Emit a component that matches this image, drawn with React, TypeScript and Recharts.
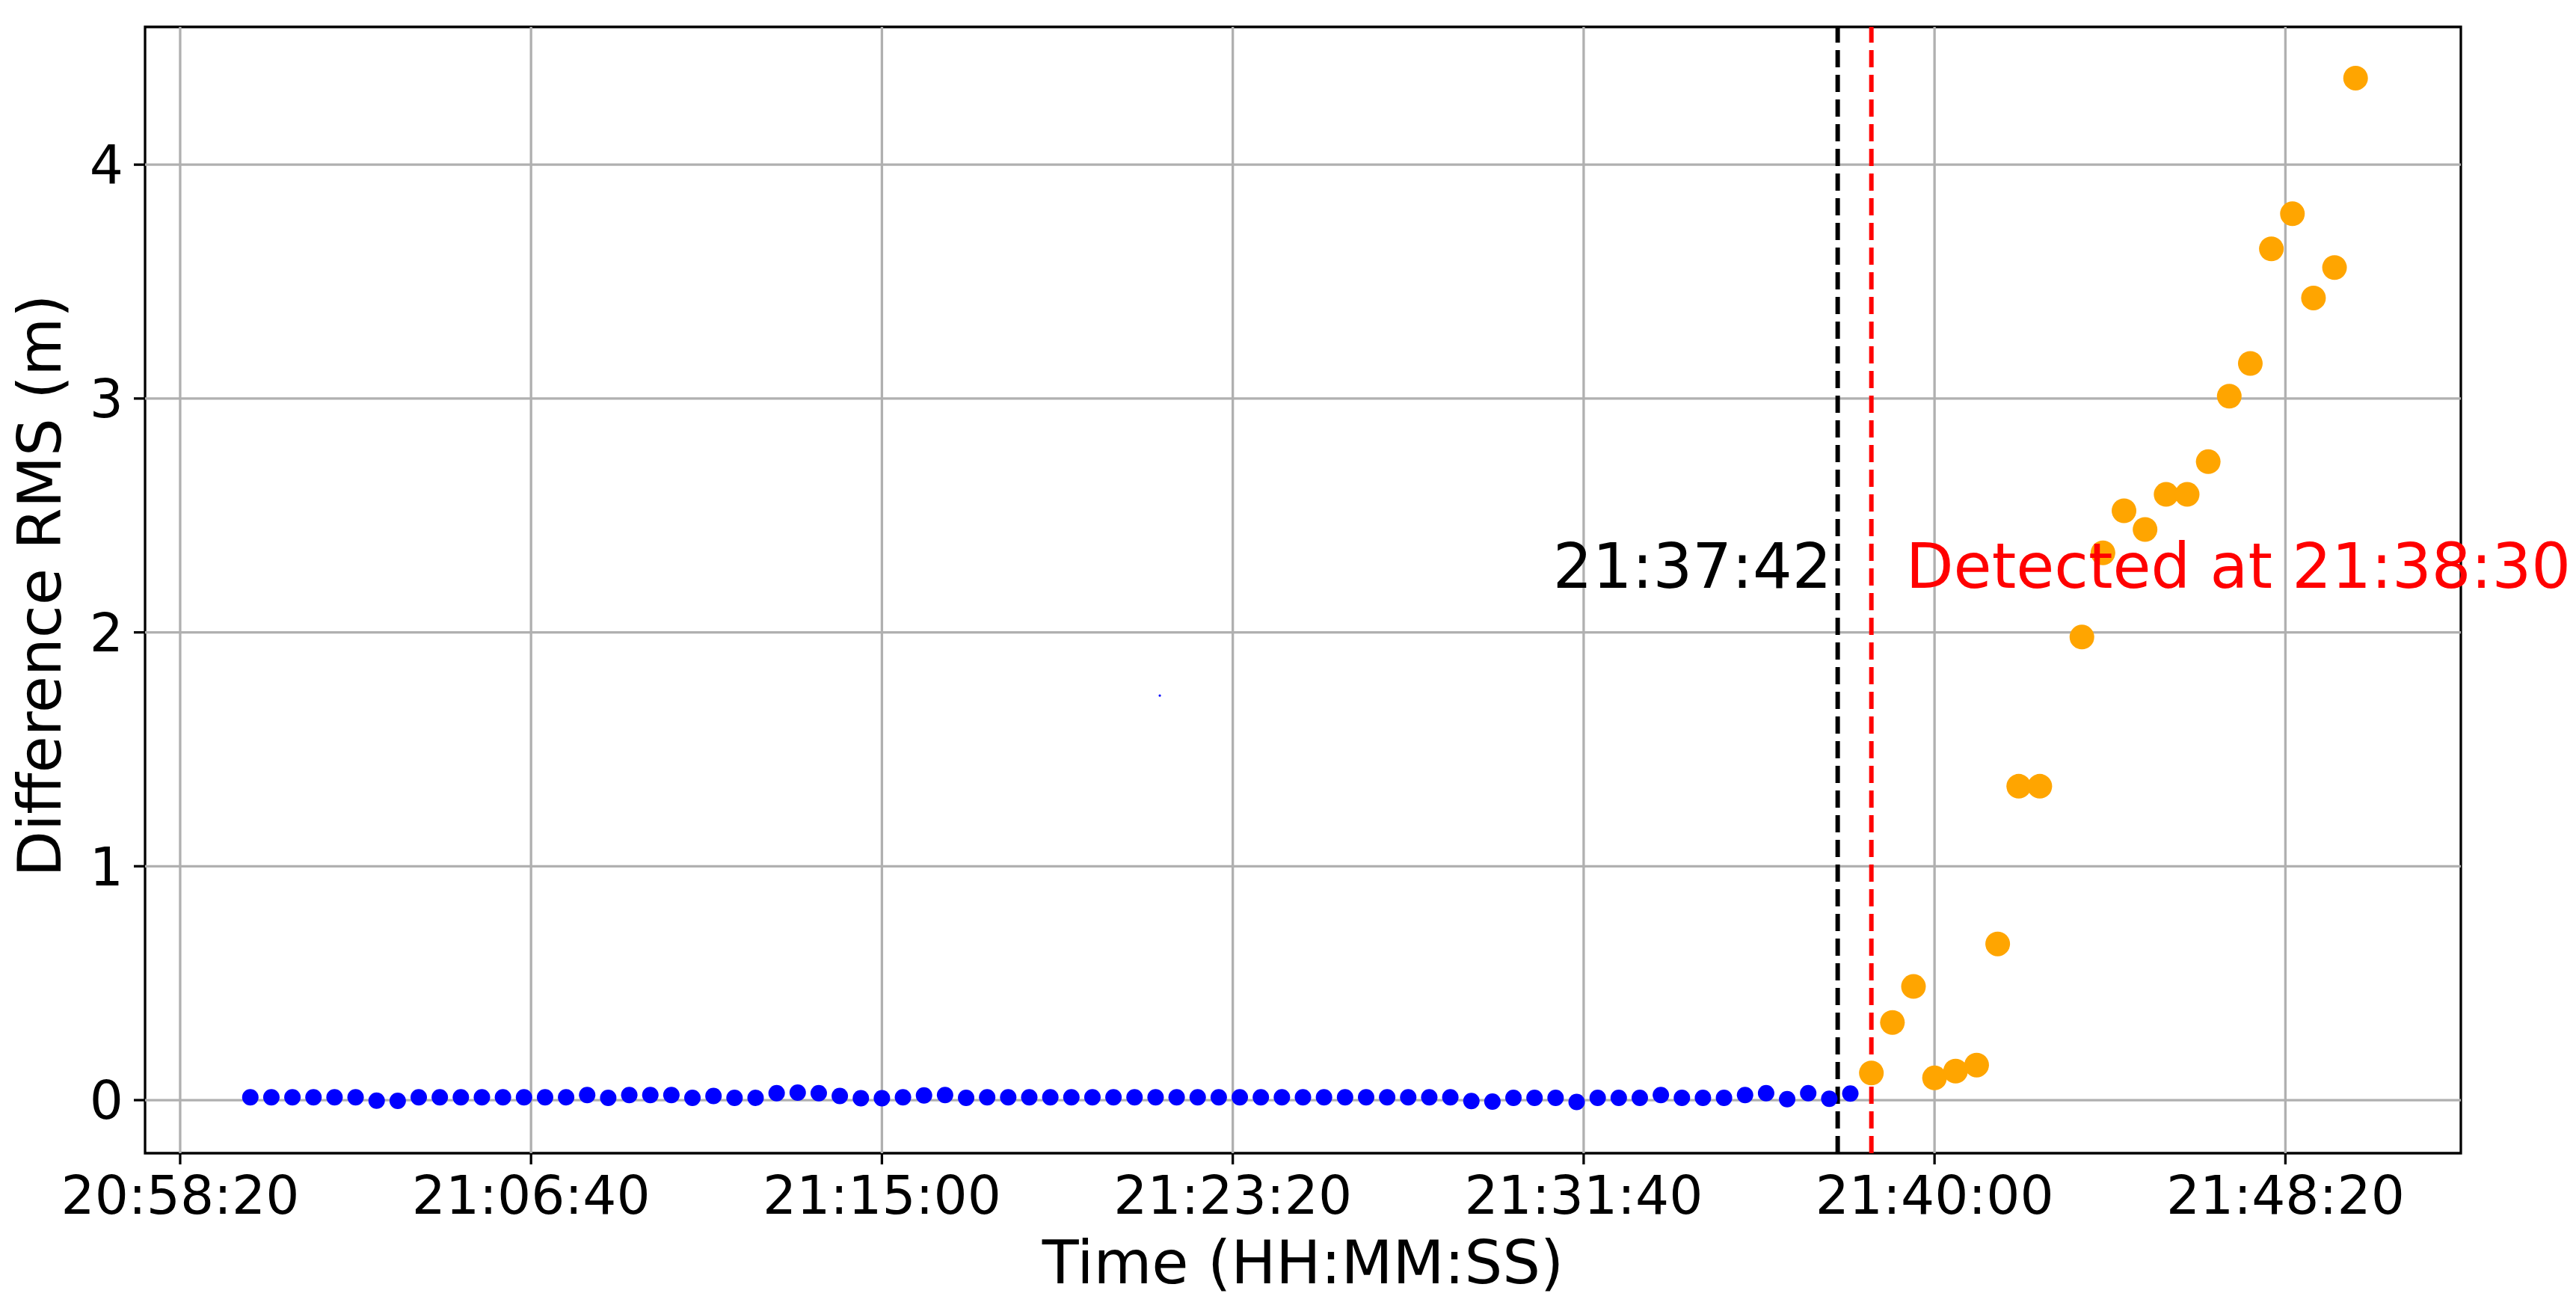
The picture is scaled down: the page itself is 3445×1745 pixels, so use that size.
import {
  ScatterChart,
  Scatter,
  XAxis,
  YAxis,
  ReferenceLine,
  ReferenceArea,
  ReferenceDot,
  Label,
} from 'recharts'

const font = 'DejaVu Sans'

// samples before the detection (blue), one every 30 s
const beforeTimes = [
  '21:00:00', '21:00:30', '21:01:00', '21:01:30', '21:02:00', '21:02:30', '21:03:00', '21:03:30', '21:04:00', '21:04:30',
  '21:05:00', '21:05:30', '21:06:00', '21:06:30', '21:07:00', '21:07:30', '21:08:00', '21:08:30', '21:09:00', '21:09:30',
  '21:10:00', '21:10:30', '21:11:00', '21:11:30', '21:12:00', '21:12:30', '21:13:00', '21:13:30', '21:14:00', '21:14:30',
  '21:15:00', '21:15:30', '21:16:00', '21:16:30', '21:17:00', '21:17:30', '21:18:00', '21:18:30', '21:19:00', '21:19:30',
  '21:20:00', '21:20:30', '21:21:00', '21:21:30', '21:22:00', '21:22:30', '21:23:00', '21:23:30', '21:24:00', '21:24:30',
  '21:25:00', '21:25:30', '21:26:00', '21:26:30', '21:27:00', '21:27:30', '21:28:00', '21:28:30', '21:29:00', '21:29:30',
  '21:30:00', '21:30:30', '21:31:00', '21:31:30', '21:32:00', '21:32:30', '21:33:00', '21:33:30', '21:34:00', '21:34:30',
  '21:35:00', '21:35:30', '21:36:00', '21:36:30', '21:37:00', '21:37:30', '21:38:00',
]
const beforeRms = [
  0.012, 0.012, 0.012, 0.012, 0.012, 0.012, -0.002, -0.003, 0.012, 0.012,
  0.012, 0.012, 0.012, 0.012, 0.012, 0.012, 0.022, 0.01, 0.022, 0.022,
  0.022, 0.01, 0.018, 0.01, 0.01, 0.03, 0.032, 0.03, 0.018, 0.008,
  0.008, 0.012, 0.02, 0.022, 0.01, 0.012, 0.012, 0.012, 0.012, 0.012,
  0.012, 0.012, 0.012, 0.012, 0.012, 0.012, 0.012, 0.012, 0.012, 0.012,
  0.012, 0.012, 0.012, 0.012, 0.012, 0.012, 0.012, 0.012, -0.004, -0.006,
  0.01, 0.01, 0.01, -0.008, 0.01, 0.01, 0.01, 0.022, 0.01, 0.01,
  0.01, 0.022, 0.03, 0.004, 0.03, 0.006, 0.028,
]

// samples after the detection (orange)
const afterTimes = [
  '21:38:30', '21:39:00', '21:39:30', '21:40:00', '21:40:30', '21:41:00', '21:41:30', '21:42:00', '21:42:30',
  '21:43:30', '21:44:00', '21:44:30', '21:45:00', '21:45:30', '21:46:00', '21:46:30', '21:47:00', '21:47:30',
  '21:48:00', '21:48:30', '21:49:00', '21:49:30', '21:50:00',
]
const afterRms = [
  0.116, 0.332, 0.486, 0.095, 0.124, 0.15, 0.668, 1.342, 1.342,
  1.98, 2.34, 2.52, 2.44, 2.59, 2.59, 2.73, 3.01, 3.15,
  3.64, 3.79, 3.43, 3.56, 4.37,
]

// odd single pixel in the original figure
const strayTimes = ['21:21:36']
const strayRms = [1.73]

const onsetTime = '21:37:42'
const detectTime = '21:38:30'
const noteY = 2.19

const xTickLabels = ['20:58:20', '21:06:40', '21:15:00', '21:23:20', '21:31:40', '21:40:00', '21:48:20']
const yTicks = [0, 1, 2, 3, 4]

function sec(s: string) {
  const [h, m, ss] = s.split(':').map(Number)
  return h * 3600 + m * 60 + ss
}

function hms(v: number) {
  const p = (n: number) => String(n).padStart(2, '0')
  return `${p(Math.floor(v / 3600))}:${p(Math.floor((v % 3600) / 60))}:${p(Math.round(v % 60))}`
}

const dot = (r: number, fill: string) => (p: any) => <circle cx={p.cx} cy={p.cy} r={r} fill={fill} />

function Note({ viewBox, text, color, dx, anchor }: any) {
  const x = viewBox.x + (viewBox.width || 0) / 2 + dx
  const y = viewBox.y + (viewBox.height || 0) / 2
  return (
    <text x={x} y={y} fill={color} fontSize={83} fontFamily={font} textAnchor={anchor}>
      {text}
    </text>
  )
}

export default function App() {
  const before = beforeTimes.map((t, i) => ({ t: sec(t), v: beforeRms[i] }))
  const after = afterTimes.map((t, i) => ({ t: sec(t), v: afterRms[i] }))
  const stray = strayTimes.map((t, i) => ({ t: sec(t), v: strayRms[i] }))

  // matplotlib style 5% margins around the data
  const ts = [...before, ...after].map(d => d.t)
  const vs = [...before, ...after].map(d => d.v)
  const tMin = Math.min(...ts), tMax = Math.max(...ts)
  const vMin = Math.min(...vs), vMax = Math.max(...vs)
  const xDomain = [tMin - 0.05 * (tMax - tMin), tMax + 0.05 * (tMax - tMin)]
  const yDomain = [vMin - 0.05 * (vMax - vMin), vMax + 0.05 * (vMax - vMin)]
  const xTicks = xTickLabels.map(sec)

  const tickStyle = { fontSize: 71, fill: '#000', fontFamily: font }
  const tickLine = { stroke: '#000', strokeWidth: 3.3 }

  return (
    <div style={{ width: 3445, height: 1745, background: '#fff' }}>
      <style>{'body{margin:0}'}</style>
      <ScatterChart
        width={3445}
        height={1745}
        margin={{ top: 36, right: 154, bottom: 0, left: 0 }}
        style={{ fontFamily: font }}
      >
        <XAxis
          dataKey="t"
          type="number"
          domain={xDomain}
          ticks={xTicks}
          interval={0}
          allowDataOverflow
          tickFormatter={hms}
          height={203}
          axisLine={false}
          tickSize={15}
          tickMargin={16}
          tick={tickStyle}
          tickLine={tickLine}
        >
          <Label
            content={({ viewBox }: any) => (
              <text
                x={viewBox.x + viewBox.width / 2}
                y={viewBox.y + 174}
                textAnchor="middle"
                fontSize={80}
                fontFamily={font}
                fill="#000"
              >
                Time (HH:MM:SS)
              </text>
            )}
          />
        </XAxis>
        <YAxis
          dataKey="v"
          type="number"
          domain={yDomain}
          ticks={yTicks}
          interval={0}
          allowDataOverflow
          width={194}
          axisLine={false}
          tickSize={15}
          tickMargin={14}
          tick={tickStyle}
          tickLine={tickLine}
        >
          <Label
            content={({ viewBox }: any) => {
              const cy = viewBox.y + viewBox.height / 2 - 6
              return (
                <text
                  x={0}
                  y={0}
                  transform={`translate(81, ${cy}) rotate(-90)`}
                  textAnchor="middle"
                  fontSize={80}
                  fontFamily={font}
                  fill="#000"
                >
                  Difference RMS (m)
                </text>
              )
            }}
          />
        </YAxis>

        <Scatter data={before} isAnimationActive={false} shape={dot(11, '#0000ff')} />
        <Scatter data={after} isAnimationActive={false} shape={dot(16.5, '#ffa500')} />
        <Scatter data={stray} isAnimationActive={false} shape={dot(1.6, '#0000ff')} />

        {/* grid sits above the markers, as in matplotlib */}
        {yTicks.map(v => (
          <ReferenceLine key={`gy${v}`} y={v} stroke="#b0b0b0" strokeWidth={3.3} />
        ))}
        {xTicks.map(v => (
          <ReferenceLine key={`gx${v}`} x={v} stroke="#b0b0b0" strokeWidth={3.3} />
        ))}

        <ReferenceLine x={sec(onsetTime)} stroke="#000" strokeWidth={6} strokeDasharray="23 10" />
        <ReferenceLine x={sec(detectTime)} stroke="#ff0000" strokeWidth={6} strokeDasharray="23 10" />

        <ReferenceDot
          x={sec(onsetTime)}
          y={noteY}
          r={0}
          fill="none"
          stroke="none"
          label={<Label content={(p: any) => <Note {...p} text={onsetTime} color="#000" dx={-8} anchor="end" />} />}
        />
        <ReferenceDot
          x={sec(detectTime)}
          y={noteY}
          r={0}
          fill="none"
          stroke="none"
          label={
            <Label
              content={(p: any) => <Note {...p} text={`Detected at ${detectTime}`} color="#ff0000" dx={46} anchor="start" />}
            />
          }
        />

        <ReferenceArea
          x1={xDomain[0]}
          x2={xDomain[1]}
          y1={yDomain[0]}
          y2={yDomain[1]}
          fill="none"
          stroke="#000"
          strokeWidth={3.3}
          ifOverflow="visible"
        />
      </ScatterChart>
    </div>
  )
}
